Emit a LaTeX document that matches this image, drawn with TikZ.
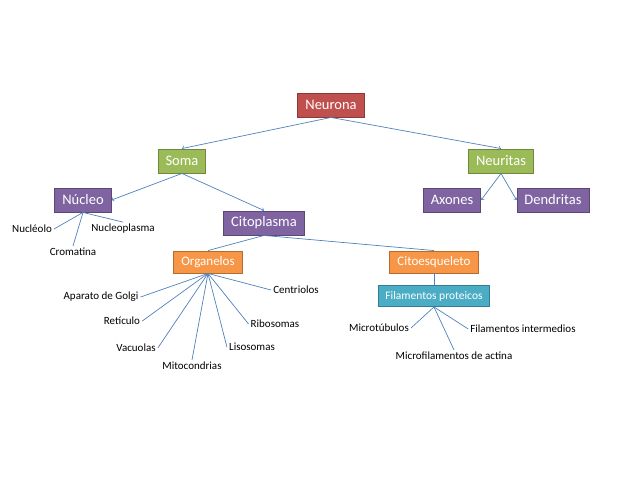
\documentclass[tikz,border=0pt]{standalone}
\usepackage{fontspec}
\setmainfont{Carlito}
\definecolor{neuronared}{HTML}{C0504D}
\definecolor{somagreen}{HTML}{9BBB59}
\definecolor{nucleopurple}{HTML}{8064A2}
\definecolor{organeloorange}{HTML}{F79646}
\definecolor{filamentoteal}{HTML}{4BACC6}
\definecolor{linkblue}{HTML}{4F81BD}
\begin{document}
\begin{tikzpicture}
[x=1pt,y=-1pt,
  boxdecorate/.style={draw=#1!72!black,fill=#1,text=white,line width=0.9pt,
    inner xsep=7.5pt,minimum height=24pt,font=\fontsize{14.5}{16}\selectfont},
  smallboxdecorate/.style={boxdecorate=#1,minimum height=22pt,
    font=\fontsize{13}{15}\selectfont},
  leafdecorate/.style={inner sep=2pt,font=\fontsize{11}{13}\selectfont},
  arrowdecorate/.style={->,draw=linkblue,line width=0.7pt},
  linedecorate/.style={-,draw=linkblue,line width=0.7pt}]
\useasboundingbox (0,0) rectangle (638,479);
%% boxes
\foreach \nodename/\x/\y/\colour/\txt in {neurona/331/105/neuronared/Neurona,
  soma/182/161/somagreen/Soma, neuritas/501/161/somagreen/Neuritas,
  nucleo/83/200/nucleopurple/Núcleo, citoplasma/264/223/nucleopurple/Citoplasma,
  axones/452/200/nucleopurple/Axones, dendritas/553/200/nucleopurple/Dendritas} {
  \node (\nodename) at (\x,\y) [boxdecorate=\colour] {\txt};
}
\foreach \nodename/\x/\y/\colour/\txt in {organelos/208/262/organeloorange/Organelos,
  citoesqueleto/434/262/organeloorange/Citoesqueleto} {
  \node (\nodename) at (\x,\y) [smallboxdecorate=\colour] {\txt};
}
\node (filamentos) at (434,296) [smallboxdecorate=filamentoteal,minimum height=21pt,
  inner xsep=7pt,font=\fontsize{11.5}{13}\selectfont] {Filamentos proteicos};
%% leaves
\foreach \nodename/\x/\y/\txt in {nucleolo/32/229/Nucléolo,
  nucleoplasma/123/229/Nucleoplasma, cromatina/73/252/Cromatina,
  golgi/101/297/Aparato de Golgi, reticulo/122/321/Retículo,
  vacuolas/136/348/Vacuolas, mitocondrias/192/366/Mitocondrias,
  lisosomas/252/347/Lisosomas, ribosomas/275/324/Ribosomas,
  centriolos/296/290/Centriolos, microtubulos/379/328/Microtúbulos,
  microfilamentos/454/356/Microfilamentos de actina,
  intermedios/523/329/Filamentos intermedios} {
  \node (\nodename) at (\x,\y) [leafdecorate] {\txt};
}
%% arrows
\path
\foreach \startnode/\endnode in {neurona.south/soma.north,
  neurona.south/neuritas.north, soma.south/nucleo.east,
  soma.south/citoplasma.north, neuritas.south/axones.east,
  neuritas.south/dendritas.west} {
  (\startnode) edge[arrowdecorate] (\endnode)
};
%% lines
\path
\foreach \startnode/\endnode in {citoplasma.south/organelos.north,
  citoplasma.south/citoesqueleto.north, citoesqueleto.south/filamentos.north,
  nucleo.south/nucleolo.east, nucleo.south/cromatina.north,
  nucleo.south/nucleoplasma.north, organelos.south/golgi.east,
  organelos.south/reticulo.east, organelos.south/vacuolas.east,
  organelos.south/mitocondrias.north, organelos.south/lisosomas.west,
  organelos.south/ribosomas.west, organelos.south/centriolos.west,
  filamentos.south/microtubulos.east, filamentos.south/microfilamentos.north,
  filamentos.south/intermedios.west} {
  (\startnode) edge[linedecorate] (\endnode)
};
\end{tikzpicture}
\end{document}
